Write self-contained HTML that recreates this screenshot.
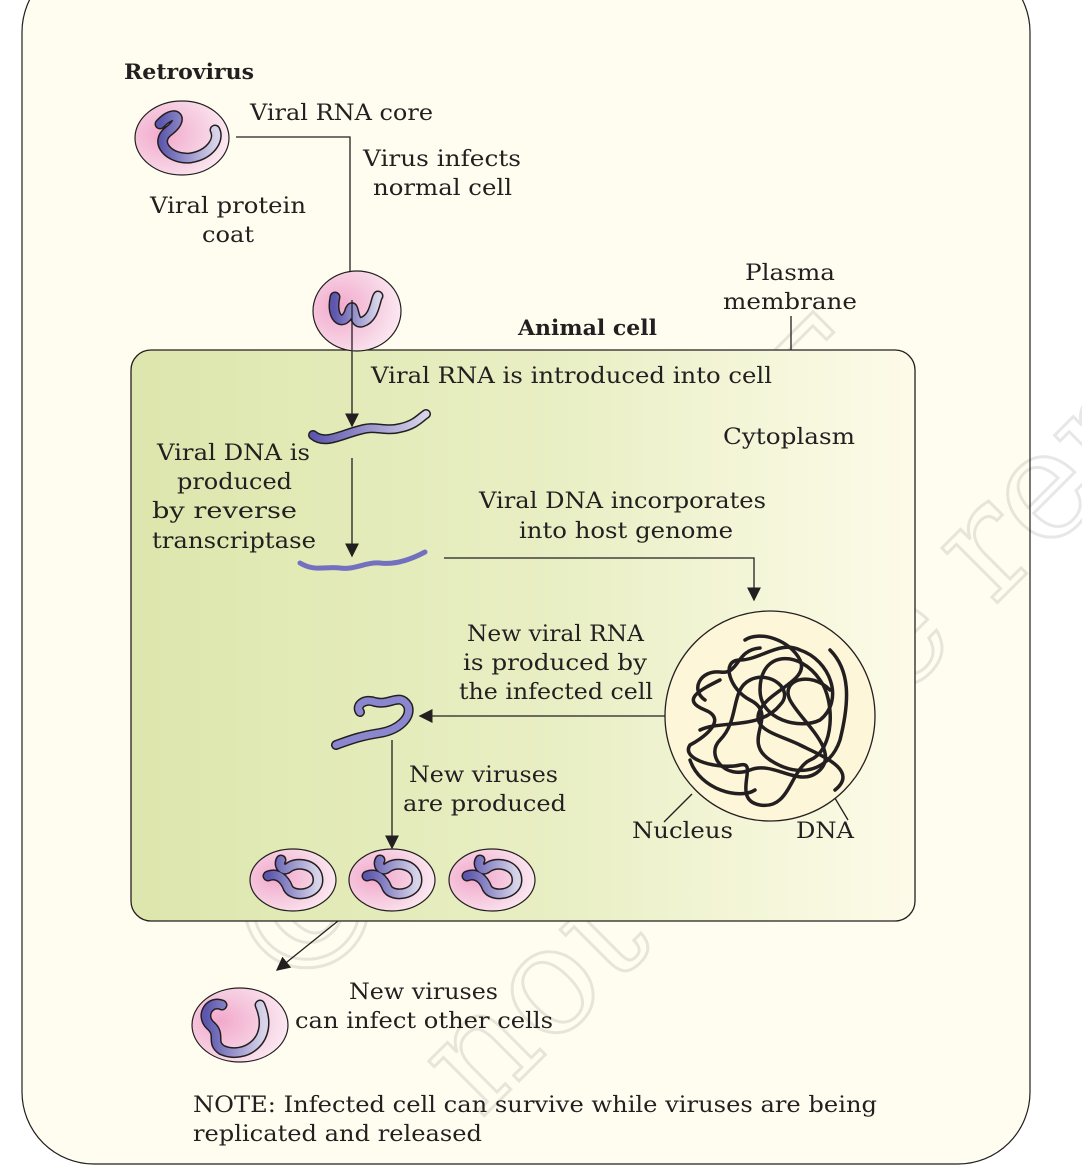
<!DOCTYPE html>
<html><head><meta charset="utf-8"><style>
html,body{margin:0;padding:0;background:#fff;}
svg{display:block;}
text{font-family:"DejaVu Serif","Liberation Serif",serif;font-size:22px;fill:#231f20;}
</style></head><body>
<svg width="1082" height="1176" viewBox="0 0 1082 1176">
<defs>
<linearGradient id="cellg" x1="0" x2="1" y1="0" y2="0">
<stop offset="0" stop-color="#dde6ad"/><stop offset="0.55" stop-color="#e9efc4"/><stop offset="1" stop-color="#fdfbe9"/>
</linearGradient>
<radialGradient id="virg" cx="0.3" cy="0.45" r="0.8">
<stop offset="0" stop-color="#f2a9cc"/><stop offset="0.6" stop-color="#f7d3e4"/><stop offset="1" stop-color="#fdf2f7"/>
</radialGradient>
<linearGradient id="rnag" x1="0" x2="1"><stop offset="0" stop-color="#5c56ad"/><stop offset="1" stop-color="#d8d5ea"/></linearGradient>
<marker id="ah" viewBox="0 0 10 10" refX="9" refY="5" markerWidth="14" markerHeight="14" markerUnits="userSpaceOnUse" orient="auto"><path d="M0,0 L10,5 L0,10 z" fill="#231f20"/></marker>
</defs>
<rect x="22" y="-40" width="1008" height="1204" rx="72" fill="#fffdf0" stroke="#231f20" stroke-width="1.2"/>
<g opacity="0.09">
<text x="0" y="0" transform="translate(290,1010) rotate(-45)" style="font-size:170px;fill:none;stroke:#000;stroke-width:3">© NCERT</text>
<text x="0" y="0" transform="translate(480,1120) rotate(-45)" style="font-size:150px;fill:none;stroke:#000;stroke-width:3">not to be republished</text>
</g>
<rect x="131" y="350" width="784" height="571" rx="20" fill="url(#cellg)" stroke="#231f20" stroke-width="1.3"/>

<g>
<text x="124" y="79" textLength="130" lengthAdjust="spacingAndGlyphs" style="font-weight:bold;font-size:21px">Retrovirus</text>
<text x="250" y="120" textLength="183" lengthAdjust="spacingAndGlyphs">Viral RNA core</text>
<text x="363" y="166" textLength="158" lengthAdjust="spacingAndGlyphs">Virus infects</text>
<text x="373" y="195" textLength="139" lengthAdjust="spacingAndGlyphs">normal cell</text>
<text x="150" y="213" textLength="156" lengthAdjust="spacingAndGlyphs">Viral protein</text>
<text x="202" y="242" textLength="52" lengthAdjust="spacingAndGlyphs">coat</text>
<text x="745" y="280" textLength="90" lengthAdjust="spacingAndGlyphs">Plasma</text>
<text x="723" y="309" textLength="134" lengthAdjust="spacingAndGlyphs">membrane</text>
<text x="518" y="335" textLength="139" lengthAdjust="spacingAndGlyphs" style="font-weight:bold;font-size:21px">Animal cell</text>
<text x="371" y="383" textLength="401" lengthAdjust="spacingAndGlyphs">Viral RNA is introduced into cell</text>
<text x="723" y="444" textLength="132" lengthAdjust="spacingAndGlyphs">Cytoplasm</text>
<text x="157" y="460" textLength="153" lengthAdjust="spacingAndGlyphs">Viral DNA is</text>
<text x="177" y="489" textLength="115" lengthAdjust="spacingAndGlyphs">produced</text>
<text x="152" y="518" textLength="145" lengthAdjust="spacingAndGlyphs">by reverse</text>
<text x="152" y="548" textLength="164" lengthAdjust="spacingAndGlyphs">transcriptase</text>
<text x="479" y="508" textLength="287" lengthAdjust="spacingAndGlyphs">Viral DNA incorporates</text>
<text x="519" y="538" textLength="214" lengthAdjust="spacingAndGlyphs">into host genome</text>
<text x="467" y="641" textLength="177" lengthAdjust="spacingAndGlyphs">New viral RNA</text>
<text x="463" y="670" textLength="184" lengthAdjust="spacingAndGlyphs">is produced by</text>
<text x="459" y="699" textLength="194" lengthAdjust="spacingAndGlyphs">the infected cell</text>
<text x="409" y="782" textLength="149" lengthAdjust="spacingAndGlyphs">New viruses</text>
<text x="403" y="811" textLength="163" lengthAdjust="spacingAndGlyphs">are produced</text>
<text x="632" y="838" textLength="101" lengthAdjust="spacingAndGlyphs">Nucleus</text>
<text x="796" y="838" textLength="58" lengthAdjust="spacingAndGlyphs">DNA</text>
<text x="349" y="999" textLength="149" lengthAdjust="spacingAndGlyphs">New viruses</text>
<text x="295" y="1028" textLength="258" lengthAdjust="spacingAndGlyphs">can infect other cells</text>
<text x="193" y="1112" textLength="684" lengthAdjust="spacingAndGlyphs">NOTE: Infected cell can survive while viruses are being</text>
<text x="193" y="1141" textLength="289" lengthAdjust="spacingAndGlyphs">replicated and released</text>
</g>

<g stroke="#231f20" stroke-width="1.3" fill="none">
<polyline points="236,137 350,137 350,292" marker-end="url(#ah)"/>
<line x1="352" y1="332" x2="352" y2="426" marker-end="url(#ah)"/>
<line x1="352" y1="458" x2="352" y2="556" marker-end="url(#ah)"/>
<polyline points="444,558 754,558 754,600" marker-end="url(#ah)"/>
<line x1="665" y1="716" x2="420" y2="716" marker-end="url(#ah)"/>
<line x1="392" y1="740" x2="392" y2="848" marker-end="url(#ah)"/>
<line x1="338" y1="921" x2="277" y2="970" marker-end="url(#ah)"/>
<line x1="692" y1="794" x2="664" y2="822"/>
<line x1="817" y1="768" x2="848" y2="820"/>
<line x1="791" y1="316" x2="791" y2="350"/>
</g>

<g>
<ellipse cx="182" cy="138" rx="47" ry="37" fill="url(#virg)" stroke="#231f20" stroke-width="1.2"/>
<path d="M160,124 C175,108 185,118 170,130 C152,142 170,160 190,158 C210,155 220,140 215,130" fill="none" stroke="#231f20" stroke-width="11" stroke-linecap="round"/>
<path d="M160,124 C175,108 185,118 170,130 C152,142 170,160 190,158 C210,155 220,140 215,130" fill="none" stroke="url(#rnag)" stroke-width="8" stroke-linecap="round"/>
</g>
<g>
<ellipse cx="357" cy="311" rx="44" ry="40" fill="url(#virg)" stroke="#231f20" stroke-width="1.2"/>
<path d="M335,297 C330,320 345,328 350,310 C355,300 352,325 362,322 C375,318 375,300 378,296" fill="none" stroke="#231f20" stroke-width="11" stroke-linecap="round"/>
<path d="M335,297 C330,320 345,328 350,310 C355,300 352,325 362,322 C375,318 375,300 378,296" fill="none" stroke="url(#rnag)" stroke-width="8" stroke-linecap="round"/>
<line x1="352" y1="300" x2="352" y2="350" stroke="#231f20" stroke-width="1.3"/>
</g>
<g>
<path d="M313,435 C325,445 340,435 360,430 C375,425 385,432 400,428 C415,425 420,418 426,414" fill="none" stroke="#231f20" stroke-width="10" stroke-linecap="round"/>
<path d="M313,435 C325,445 340,435 360,430 C375,425 385,432 400,428 C415,425 420,418 426,414" fill="none" stroke="url(#rnag)" stroke-width="7" stroke-linecap="round"/>
</g>
<path d="M300,563 C315,572 325,566 340,568 C355,570 365,562 380,563 C395,565 410,560 425,552" fill="none" stroke="#7470c0" stroke-width="5" stroke-linecap="round"/>
<g>
<path d="M360,712 C355,705 365,698 375,702 C390,706 400,692 408,706 C412,718 398,730 380,733 C360,736 350,740 336,745" fill="none" stroke="#231f20" stroke-width="10" stroke-linecap="round"/>
<path d="M360,712 C355,705 365,698 375,702 C390,706 400,692 408,706 C412,718 398,730 380,733 C360,736 350,740 336,745" fill="none" stroke="#8b87cf" stroke-width="7" stroke-linecap="round"/>
</g>
<g>
<g transform="translate(293,880)">
<ellipse rx="43" ry="31" fill="url(#virg)" stroke="#231f20" stroke-width="1.2"/>
<path d="M-25,-4 C-15,-8 -8,0 -5,8 C0,18 25,15 25,0 C25,-15 5,-20 -5,-12 C-10,-8 -15,-15 -12,-20" fill="none" stroke="#231f20" stroke-width="11" stroke-linecap="round"/>
<path d="M-25,-4 C-15,-8 -8,0 -5,8 C0,18 25,15 25,0 C25,-15 5,-20 -5,-12 C-10,-8 -15,-15 -12,-20" fill="none" stroke="url(#rnag)" stroke-width="8" stroke-linecap="round"/>
</g>
<g transform="translate(392,880)">
<ellipse rx="43" ry="31" fill="url(#virg)" stroke="#231f20" stroke-width="1.2"/>
<path d="M-25,-4 C-15,-8 -8,0 -5,8 C0,18 25,15 25,0 C25,-15 5,-20 -5,-12 C-10,-8 -15,-15 -12,-20" fill="none" stroke="#231f20" stroke-width="11" stroke-linecap="round"/>
<path d="M-25,-4 C-15,-8 -8,0 -5,8 C0,18 25,15 25,0 C25,-15 5,-20 -5,-12 C-10,-8 -15,-15 -12,-20" fill="none" stroke="url(#rnag)" stroke-width="8" stroke-linecap="round"/>
</g>
<g transform="translate(492,880)">
<ellipse rx="43" ry="31" fill="url(#virg)" stroke="#231f20" stroke-width="1.2"/>
<path d="M-25,-4 C-15,-8 -8,0 -5,8 C0,18 25,15 25,0 C25,-15 5,-20 -5,-12 C-10,-8 -15,-15 -12,-20" fill="none" stroke="#231f20" stroke-width="11" stroke-linecap="round"/>
<path d="M-25,-4 C-15,-8 -8,0 -5,8 C0,18 25,15 25,0 C25,-15 5,-20 -5,-12 C-10,-8 -15,-15 -12,-20" fill="none" stroke="url(#rnag)" stroke-width="8" stroke-linecap="round"/>
</g>
</g>
<g>
<ellipse cx="240" cy="1025" rx="48" ry="37" fill="url(#virg)" stroke="#231f20" stroke-width="1.2"/>
<path d="M222,1005 C210,1000 200,1015 210,1025 C222,1035 210,1042 222,1050 C245,1060 275,1040 260,1005" fill="none" stroke="#231f20" stroke-width="11" stroke-linecap="round"/>
<path d="M222,1005 C210,1000 200,1015 210,1025 C222,1035 210,1042 222,1050 C245,1060 275,1040 260,1005" fill="none" stroke="url(#rnag)" stroke-width="8" stroke-linecap="round"/>
</g>
<g>
<circle cx="770" cy="716" r="105" fill="#fdf6d8" stroke="#231f20" stroke-width="1.3"/>
<path d="M720,680 C700,690 680,700 705,710 C730,720 700,740 690,745 C680,760 720,770 740,765 C760,760 730,800 760,805 C790,810 790,770 810,760 C835,750 835,700 820,680 C800,650 760,650 760,690 C760,720 800,730 820,720 C845,700 830,660 800,650 C780,640 760,660 740,660 C720,660 730,690 750,700 C780,715 740,740 770,760 C800,780 830,770 840,740 C850,700 850,670 830,650" fill="none" stroke="#231f20" stroke-width="3.5" stroke-linecap="round"/>
<path d="M700,730 C720,720 760,730 780,705 C795,690 770,670 750,680 C730,690 740,720 720,740 C705,755 725,780 750,770 C775,760 800,790 820,770 C840,750 800,720 790,700 C780,680 810,670 830,690" fill="none" stroke="#231f20" stroke-width="3.5" stroke-linecap="round"/>
<path d="M745,640 C760,630 790,640 800,660 C810,680 770,690 760,710 C750,730 780,735 800,745 C820,755 860,770 835,790" fill="none" stroke="#231f20" stroke-width="3.5" stroke-linecap="round"/>
<path d="M705,700 C690,690 700,670 720,672 C740,675 735,650 760,648 M690,760 C700,790 740,800 755,790" fill="none" stroke="#231f20" stroke-width="3.5" stroke-linecap="round"/>
</g>
</svg>
</body></html>
